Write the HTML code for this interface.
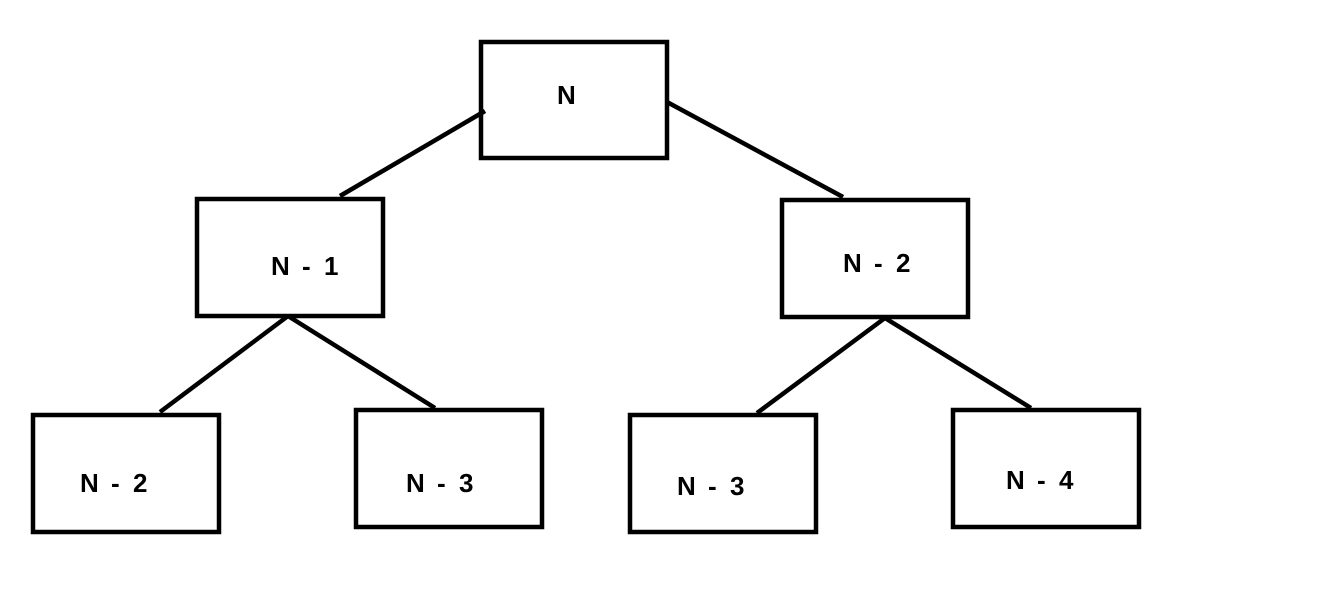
<!DOCTYPE html>
<html><head><style>body{margin:0;background:#fff}svg{display:block}</style></head>
<body>
<svg width="1332" height="602" xmlns="http://www.w3.org/2000/svg">
<g fill="none" stroke="#000" stroke-width="4.5">
<rect x="481" y="42" width="186" height="116"/>
<rect x="197" y="199" width="186" height="117"/>
<rect x="782" y="200" width="186" height="117"/>
<rect x="33" y="415" width="186" height="117"/>
<rect x="356" y="410" width="186" height="117"/>
<rect x="630" y="415" width="186" height="117"/>
<rect x="953" y="410" width="186" height="117"/>
<line x1="485" y1="111" x2="340" y2="196"/>
<line x1="667" y1="102" x2="843" y2="197"/>
<line x1="288" y1="316" x2="160" y2="412"/>
<line x1="288" y1="316" x2="435" y2="408"/>
<line x1="885" y1="318" x2="757" y2="413"/>
<line x1="885" y1="318" x2="1031" y2="408"/>
</g>
<g font-family="Liberation Sans, sans-serif" font-weight="bold" font-size="26" fill="#000">
<text x="557" y="104">N</text>
<g transform="translate(271,275)"><text x="0">N</text><text x="31">-</text><text x="53">1</text></g>
<g transform="translate(843,272)"><text x="0">N</text><text x="31">-</text><text x="53">2</text></g>
<g transform="translate(80,492)"><text x="0">N</text><text x="31">-</text><text x="53">2</text></g>
<g transform="translate(406,492)"><text x="0">N</text><text x="31">-</text><text x="53">3</text></g>
<g transform="translate(677,495)"><text x="0">N</text><text x="31">-</text><text x="53">3</text></g>
<g transform="translate(1006,489)"><text x="0">N</text><text x="31">-</text><text x="53">4</text></g>
</g>
</svg>
</body></html>
